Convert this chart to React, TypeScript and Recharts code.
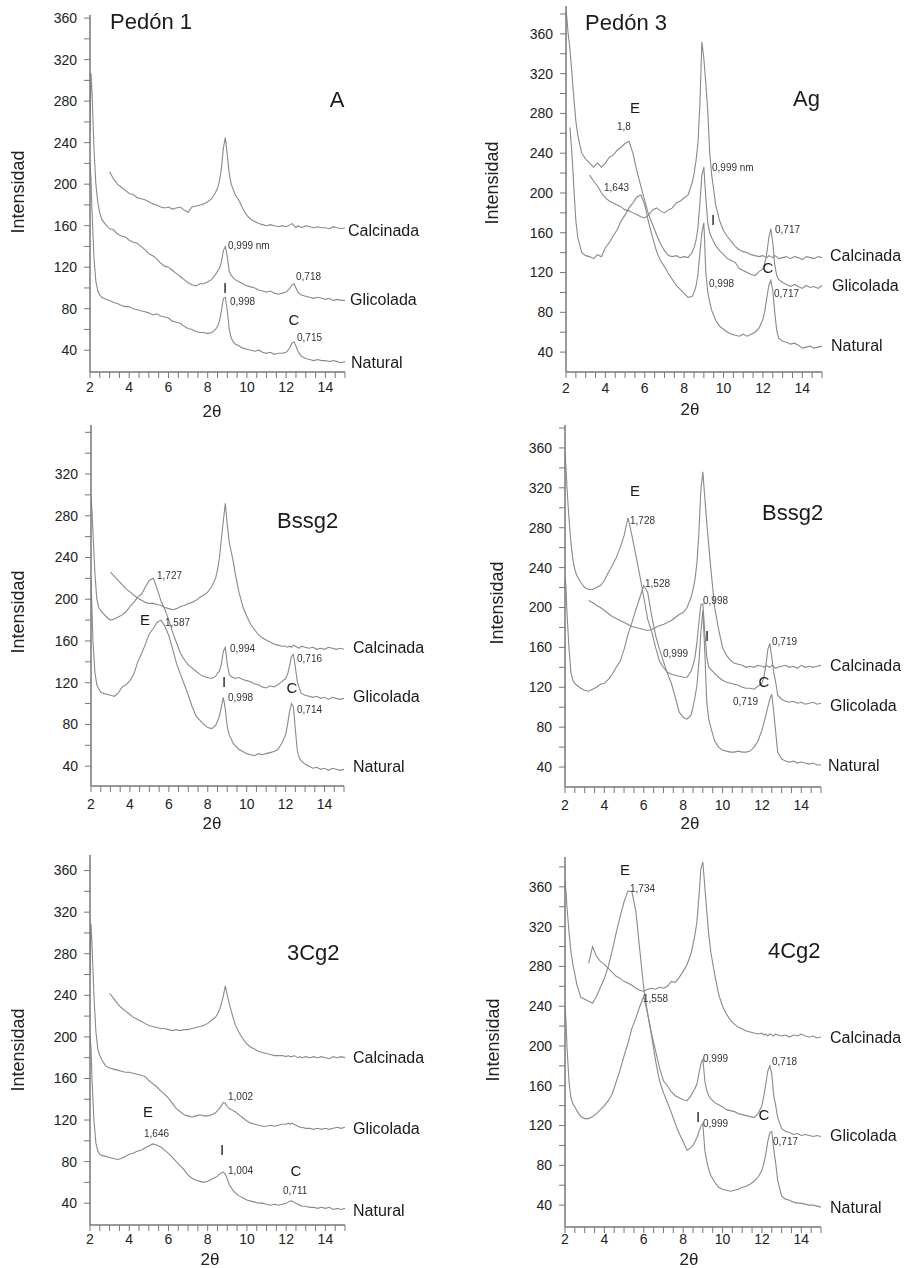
import React from "react";
import { LineChart, Line, XAxis, YAxis } from "recharts";

const N = null;

// 2θ sampling positions (denser around the illite and chlorite/kaolinite peaks)
const TWO_THETA = [
  2.0, 2.05, 2.1, 2.2, 2.3, 2.4, 2.5, 2.6, 2.8, 3.0,
  3.2, 3.4, 3.6, 3.8, 4.0, 4.2, 4.4, 4.6, 4.8, 5.0,
  5.2, 5.4, 5.6, 5.8, 6.0, 6.2, 6.4, 6.6, 6.8, 7.0,
  7.2, 7.4, 7.6, 7.8, 8.0, 8.2, 8.4, 8.5, 8.6, 8.7,
  8.8, 8.9, 9.0, 9.1, 9.2, 9.3, 9.4, 9.6, 9.8, 10.0,
  10.2, 10.4, 10.6, 10.8, 11.0, 11.2, 11.4, 11.6, 11.8, 12.0,
  12.1, 12.2, 12.3, 12.4, 12.5, 12.6, 12.7, 12.8, 13.0, 13.2,
  13.4, 13.6, 13.8, 14.0, 14.2, 14.4, 14.6, 14.8, 15.0,
];

// Pedón 1 - A
const natA = [
  220, 205, 175, 130, 106, 97, 93, 91, 89, 88,
  86, 85, 83, 82, 82, 80, 79, 78, 77, 76,
  74, 75, 73, 72, 71, 68, 67, 66, 63, 61,
  60, 58, 57, 57, 56, 57, 60, 63, 68, 78,
  90, 91, 78, 60, 52, 48, 46, 44, 42, 41,
  40, 39, 40, 38, 37, 38, 36, 37, 37, 38,
  40, 43, 47, 48, 44, 39, 36, 34, 32, 31,
  30, 31, 30, 30, 29, 30, 29, 28, 29,
];
const gliA = [
  250, 307, 290, 235, 200, 182, 172, 166, 161, 157,
  156, 152, 150, 149, 146, 144, 143, 140, 137, 133,
  131, 128, 124, 121, 120, 117, 114, 111, 108, 105,
  103, 102, 104, 104, 106, 108, 113, 116, 119, 125,
  136, 140, 130, 116, 112, 110, 108, 106, 104, 102,
  101, 100, 98, 97, 96, 97, 95, 94, 95, 96,
  98, 100, 103, 104, 100, 96, 94, 93, 92, 91,
  90, 91, 90, 89, 90, 88, 89, 88, 88,
];
const calA = [
  N, N, N, N, N, N, N, N, N, 212,
  205, 200, 197, 194, 191, 190, 187, 186, 185, 183,
  181, 180, 178, 177, 178, 176, 177, 178, 175, 173,
  178, 179, 180, 181, 183, 186, 192, 196, 203, 215,
  235, 245, 228, 210, 200, 195, 190, 184, 176, 170,
  166, 164, 162, 161, 160, 161, 160, 159, 160, 159,
  160, 161, 162, 160, 158, 160, 159, 158, 160, 159,
  158, 159, 158, 158, 157, 159, 158, 157, 158,
];

// Pedón 3 - Ag
const natAg = [
  N, N, N, 266, 240, 205, 172, 155, 140, 137,
  136, 134, 138, 136, 145, 150, 157, 163, 172, 178,
  185, 190, 196, 198, 188, 170, 155, 141, 132, 126,
  119, 113, 107, 103, 99, 95, 96, 100, 106, 118,
  140, 160, 170, 120, 100, 90, 82, 72, 66, 63,
  60, 58, 57, 56, 58, 56, 58, 60, 64, 73,
  82, 95, 107, 112, 102, 80, 62, 54, 51, 50,
  48, 49, 47, 44, 45, 46, 44, 45, 46,
];
const gliAg = [
  383, 375, 362, 345, 320, 295, 272, 258, 240, 234,
  230, 226, 230, 226, 230, 236, 238, 243, 246, 250,
  252, 240, 222, 207, 192, 178, 168, 158, 149, 142,
  137, 136, 137, 135, 136, 135, 140, 145, 152, 165,
  190, 218, 226, 195, 170, 160, 155, 147, 142, 138,
  134, 132, 130, 124, 122, 120, 118, 117, 121, 124,
  130, 140, 155, 164, 150, 128, 117, 113, 110, 108,
  106, 108, 106, 104, 107, 105, 106, 104, 107,
];
const calAg = [
  N, N, N, N, N, N, N, N, N, N,
  218, 212, 207, 200, 195, 192, 190, 188, 186, 183,
  182, 180, 178, 176, 175, 178, 183, 185, 182, 180,
  183, 185, 190, 192, 195, 198, 210, 219, 232, 250,
  290, 352, 335, 310, 282, 240, 218, 188, 172, 162,
  156, 151, 146, 143, 141, 140, 138, 137, 136, 137,
  136, 135, 137, 136, 135, 137, 136, 134, 135, 136,
  134, 136, 135, 133, 136, 135, 134, 136, 135,
];

// Pedón 1 - Bssg2
const natB = [
  218, 190, 160, 130, 118, 114, 111, 110, 109, 108,
  107, 110, 116, 118, 122, 128, 140, 148, 157, 167,
  172, 178, 180, 174, 165, 152, 138, 128, 118, 108,
  97, 88, 84, 80, 77, 76, 79, 83, 88, 97,
  106, 95, 78, 70, 66, 62, 60, 56, 54, 52,
  51, 50, 52, 51, 52, 53, 54, 56, 62, 70,
  80, 92, 100, 97, 75, 55, 48, 45, 42, 40,
  38, 39, 37, 38, 36, 38, 37, 36, 37,
];
const gliB = [
  298, 285, 265, 225, 200, 192, 189, 187, 183, 180,
  181, 183, 185, 188, 193, 197, 202, 205, 212, 218,
  220, 210, 198, 190, 180, 168, 158, 148, 142, 137,
  134, 131, 128, 126, 125, 124, 126, 129, 131, 138,
  150, 154, 138, 128, 126, 125, 124, 125, 123, 122,
  121, 119, 118, 116, 115, 117, 116, 118, 121, 124,
  128, 136, 145, 147, 135, 121, 115, 110, 108, 107,
  106, 107, 105, 106, 104, 106, 105, 104, 105,
];
const calB = [
  N, N, N, N, N, N, N, N, N, 226,
  222, 218, 214, 210, 207, 204, 201, 199, 197, 196,
  196, 195, 194, 192, 191, 190, 191, 193, 194, 196,
  197, 199, 202, 204, 207, 212, 220, 228, 240, 258,
  275, 292, 272, 255, 246, 237, 226, 207, 193, 184,
  176, 171, 166, 163, 161, 159, 157, 156, 155, 155,
  154, 155, 154, 156, 155, 154, 153, 155, 154, 153,
  154, 152, 153, 152, 154, 153, 152, 153, 152,
];

// Pedón 3 - Bssg2
const natB3 = [
  231, 220, 195, 160, 135, 127, 124, 122, 119, 117,
  116, 118, 120, 123, 124, 128, 133, 140, 146, 158,
  173, 185, 198, 210, 222, 215, 192, 172, 158, 146,
  134, 124, 110, 95, 90, 88, 92, 100, 110, 122,
  145, 175, 197, 155, 105, 88, 80, 66, 60, 57,
  56, 55, 55, 56, 55, 55, 56, 60, 66, 77,
  84, 92, 100, 108, 113, 95, 75, 55, 48, 46,
  45, 46, 44, 45, 44, 43, 44, 42, 42,
];
const gliB3 = [
  355, 340, 320, 290, 265, 248, 238, 232, 225, 220,
  218, 218, 220, 222, 227, 235, 242, 250, 260, 272,
  290, 272, 252, 232, 210, 188, 176, 160, 146, 140,
  135, 133, 132, 131, 130, 130, 136, 142, 150, 165,
  185, 203, 204, 175, 150, 140, 138, 134, 130, 127,
  125, 124, 123, 122, 120, 119, 119, 118, 121, 124,
  130, 142, 158, 164, 150, 135, 125, 112, 108, 106,
  105, 106, 104, 105, 103, 104, 105, 103, 104,
];
const calB3 = [
  N, N, N, N, N, N, N, N, N, N,
  207, 205, 202, 200, 197, 194, 191, 189, 187, 185,
  183, 181, 180, 179, 178, 177, 178, 180, 182, 183,
  185, 187, 190, 193, 195, 200, 210, 218, 228, 245,
  275, 318, 336, 310, 285, 262, 240, 200, 178, 160,
  152, 147, 144, 143, 142, 140, 141, 140, 142, 141,
  140, 142, 141, 140, 142, 141, 139, 140, 141, 142,
  140, 141, 139, 142, 140, 141, 140, 141, 142,
];

// Pedón 1 - 3Cg2
const natC = [
  200, 190, 160, 120, 98, 90, 87, 86, 85, 84,
  83, 82, 83, 85, 87, 88, 90, 91, 93, 95,
  97, 96, 94, 91, 88, 84, 80, 76, 72, 67,
  64, 62, 61, 60, 61, 63, 65, 66, 68, 69,
  70, 68, 63, 58, 55, 52, 50, 47, 45, 43,
  42, 41, 40, 40, 39, 38, 39, 38, 39, 40,
  41, 42, 42, 41, 40, 39, 38, 37, 37, 36,
  36, 35, 36, 35, 36, 34, 35, 34, 35,
];
const gliC = [
  260, 309, 290, 240, 205, 188, 182, 178, 172, 170,
  169, 168, 167, 166, 166, 165, 164, 163, 162, 158,
  155, 152, 148, 145, 141, 136, 131, 128, 125, 124,
  123, 124, 125, 124, 124, 125, 127, 129, 131, 134,
  137, 136, 133, 131, 130, 129, 128, 125, 122, 119,
  117, 116, 115, 114, 114, 115, 114, 115, 116, 116,
  117, 116, 117, 116, 115, 114, 113, 113, 112, 112,
  111, 112, 111, 112, 111, 112, 113, 112, 113,
];
const calC = [
  N, N, N, N, N, N, N, N, N, 242,
  237, 232, 228, 225, 222, 219, 217, 215, 213, 211,
  210, 209, 208, 208, 207, 206, 207, 206, 207, 207,
  208, 209, 210, 211, 213, 216, 219, 222, 226, 232,
  240, 249, 240, 232, 225, 218, 212, 204, 198, 193,
  190, 188, 186, 185, 184, 183, 182, 182, 182, 181,
  182, 181, 181, 182, 181, 180, 181, 180, 181, 180,
  181, 180, 181, 180, 179, 181, 180, 181, 180,
];

// Pedón 3 - 4Cg2
const natD = [
  239, 225, 200, 165, 148, 142, 139, 135, 129, 127,
  127, 129, 132, 136, 140, 145, 152, 164, 176, 190,
  203, 218, 228, 240, 250, 232, 210, 185, 165, 153,
  143, 133, 122, 112, 104, 95, 98, 100, 104, 108,
  114, 119, 122, 95, 84, 76, 70, 63, 58, 56,
  55, 54, 55, 56, 58, 59, 61, 64, 68, 75,
  82, 92, 104, 113, 114, 96, 82, 65, 49, 46,
  45, 43, 42, 42, 41, 40, 40, 39, 38,
];
const gliD = [
  367, 355, 340, 315, 295, 282, 272, 262, 249, 247,
  245, 243, 250, 259, 268, 280, 296, 314, 330, 345,
  356, 355, 335, 296, 258, 232, 212, 195, 178, 165,
  160, 154, 150, 148, 146, 145, 150, 154, 157, 162,
  172, 182, 187, 165, 155, 150, 147, 143, 141, 139,
  136, 135, 134, 132, 131, 130, 129, 128, 132, 140,
  150, 162, 175, 180, 172, 150, 140, 128, 117, 114,
  113, 111, 112, 110, 111, 110, 109, 110, 109,
];
const calD = [
  N, N, N, N, N, N, N, N, N, N,
  283, 300, 290, 285, 282, 278, 274, 270, 268, 265,
  263, 261, 258, 256, 255, 257, 258, 257, 259, 258,
  260, 265, 264, 269, 275, 282, 293, 302, 312, 325,
  350, 378, 385, 360, 335, 312, 295, 272, 252, 240,
  232, 226, 222, 219, 217, 215, 214, 213, 212, 213,
  211, 212, 210, 212, 211, 210, 212, 211, 210, 211,
  209, 211, 210, 212, 210, 209, 210, 208, 209,
];

const X_LABELS = [2, 4, 6, 8, 10, 12, 14];
const Y_LABELS = [40, 80, 120, 160, 200, 240, 280, 320, 360];
const Y_LABELS_NO360 = [40, 80, 120, 160, 200, 240, 280, 320];

const X_TICKS = Array.from({ length: 27 }, (_, i) => 2 + i * 0.5);

const FONT = "'Liberation Sans', Arial, sans-serif";
const AXIS = "#777";
const LINE = "#8a8a8a";

// layout of each panel on the page (plot box in page pixels) and its annotations
const PANELS = [
  {
    nat: natA, gli: gliA, cal: calA,
    left: 90, right: 345, top: 15, bottom: 372, domain: [19, 363], yTickMax: 360, yLabels: Y_LABELS, xDy: 20,
    yTitle: [18, 192], xTitle: [212, 417],
    texts: [
      ["Pedón 1", 110, 29, 22], ["A", 337, 107, 22, "middle"],
      ["0,999 nm", 228, 249, 10], ["0,718", 296, 280, 10], ["I", 225, 293, 15, "middle"],
      ["0,998", 230, 305, 10], ["C", 294, 325, 15, "middle"], ["0,715", 297, 341, 10],
      ["Calcinada", 348, 236, 16], ["Glicolada", 350, 305, 16], ["Natural", 351, 368, 16],
    ],
  },
  {
    nat: natAg, gli: gliAg, cal: calAg,
    left: 566, right: 822, top: 6, bottom: 372, domain: [20, 388], yTickMax: 380, yLabels: Y_LABELS, xDy: 21,
    yTitle: [492, 183], xTitle: [690, 415],
    texts: [
      ["Pedón 3", 585, 30, 22], ["Ag", 793, 106, 22], ["E", 635, 113, 15, "middle"],
      ["1,8", 617, 130, 10], ["0,999 nm", 712, 171, 10], ["1,643", 604, 191, 10],
      ["I", 713, 225, 15, "middle"], ["0,717", 775, 233, 10], ["C", 768, 273, 15, "middle"],
      ["0,998", 709, 287, 10], ["0,717", 774, 297, 10],
      ["Calcinada", 830, 261, 16], ["Glicolada", 832, 291, 16], ["Natural", 831, 351, 16],
    ],
  },
  {
    nat: natB, gli: gliB, cal: calB,
    left: 91, right: 344, top: 425, bottom: 786, domain: [21, 367], yTickMax: 360, yLabels: Y_LABELS_NO360, xDy: 23,
    yTitle: [18, 612], xTitle: [212, 829],
    texts: [
      ["Bssg2", 277, 528, 22], ["1,727", 157, 579, 10], ["E", 145, 625, 15, "middle"],
      ["1,587", 165, 626, 10], ["0,994", 230, 652, 10], ["0,716", 297, 662, 10],
      ["I", 224, 687, 15, "middle"], ["C", 292, 693, 15, "middle"], ["0,998", 228, 701, 10],
      ["0,714", 297, 713, 10],
      ["Calcinada", 353, 653, 16], ["Glicolada", 353, 702, 16], ["Natural", 353, 772, 16],
    ],
  },
  {
    nat: natB3, gli: gliB3, cal: calB3,
    left: 565, right: 821, top: 425, bottom: 787, domain: [20, 383], yTickMax: 380, yLabels: Y_LABELS, xDy: 23,
    yTitle: [497, 603], xTitle: [690, 829],
    texts: [
      ["E", 635, 496, 15, "middle"], ["1,728", 630, 524, 10], ["Bssg2", 762, 520, 22],
      ["1,528", 645, 587, 10], ["0,998", 703, 604, 10], ["I", 707, 641, 15, "middle"],
      ["0,999", 663, 657, 10], ["0,719", 772, 645, 10], ["C", 764, 687, 15, "middle"],
      ["0,719", 733, 705, 10],
      ["Calcinada", 830, 671, 16], ["Glicolada", 830, 711, 16], ["Natural", 828, 771, 16],
    ],
  },
  {
    nat: natC, gli: gliC, cal: calC,
    left: 90, right: 345, top: 855, bottom: 1225, domain: [19, 375], yTickMax: 360, yLabels: Y_LABELS, xDy: 19,
    yTitle: [18, 1050], xTitle: [210, 1265],
    texts: [
      ["3Cg2", 287, 960, 22], ["1,002", 228, 1100, 10], ["E", 148, 1117, 15, "middle"],
      ["1,646", 144, 1137, 10], ["I", 222, 1155, 15, "middle"], ["1,004", 228, 1174, 10],
      ["C", 296, 1176, 15, "middle"], ["0,711", 283, 1194, 10],
      ["Calcinada", 353, 1063, 16], ["Glicolada", 353, 1134, 16], ["Natural", 353, 1216, 16],
    ],
  },
  {
    nat: natD, gli: gliD, cal: calD,
    left: 565, right: 821, top: 857, bottom: 1227, domain: [18, 390], yTickMax: 380, yLabels: Y_LABELS, xDy: 17,
    yTitle: [493, 1040], xTitle: [689, 1265],
    texts: [
      ["E", 625, 875, 15, "middle"], ["1,734", 630, 892, 10], ["4Cg2", 768, 958, 22],
      ["1,558", 643, 1002, 10], ["0,999", 703, 1062, 10], ["0,718", 772, 1065, 10],
      ["I", 698, 1122, 15, "middle"], ["C", 764, 1120, 15, "middle"], ["0,999", 703, 1127, 10],
      ["0,717", 773, 1145, 10],
      ["Calcinada", 830, 1043, 16], ["Glicolada", 830, 1141, 16], ["Natural", 830, 1213, 16],
    ],
  },
];

function XTick(props: any) {
  const { x, y, payload, dy } = props;
  if (!X_LABELS.includes(payload.value)) return <g />;
  return (
    <text x={x} y={y + dy} textAnchor="middle" fontSize={14} fontFamily={FONT} fill="#222">
      {payload.value}
    </text>
  );
}

function YTick(props: any) {
  const { x, y, payload, labels } = props;
  if (!labels.includes(payload.value)) return <g />;
  return (
    <text x={x} y={y} dy="0.35em" textAnchor="end" fontSize={14} fontFamily={FONT} fill="#222">
      {payload.value}
    </text>
  );
}

function Panel({ p }: { p: any }) {
  const data = TWO_THETA.map((x, i) => ({ x, nat: p.nat[i], gli: p.gli[i], cal: p.cal[i] }));
  const yTicks: number[] = [];
  for (let v = 40; v <= p.yTickMax; v += 20) yTicks.push(v);

  return (
    <div style={{ position: "absolute", left: p.left - 60, top: p.top - 10 }}>
      <LineChart
        width={p.right - p.left + 70}
        height={p.bottom - p.top + 50}
        data={data}
        margin={{ top: 10, right: 10, bottom: 10, left: 20 }}
      >
        <XAxis
          dataKey="x"
          type="number"
          domain={[2, 15]}
          ticks={X_TICKS}
          interval={0}
          height={30}
          tickSize={6}
          tickMargin={0}
          allowDataOverflow
          axisLine={{ stroke: AXIS, strokeWidth: 1.5 }}
          tickLine={{ stroke: AXIS }}
          tick={(t: any) => <XTick {...t} dy={p.xDy - 6} />}
        />
        <YAxis
          type="number"
          domain={p.domain}
          ticks={yTicks}
          interval={0}
          width={40}
          tickSize={6}
          tickMargin={7}
          allowDataOverflow
          axisLine={{ stroke: AXIS, strokeWidth: 1.5 }}
          tickLine={{ stroke: AXIS }}
          tick={(t: any) => <YTick {...t} labels={p.yLabels} />}
        />
        <Line dataKey="nat" stroke={LINE} strokeWidth={1.1} dot={false} isAnimationActive={false} />
        <Line dataKey="gli" stroke={LINE} strokeWidth={1.1} dot={false} isAnimationActive={false} />
        <Line dataKey="cal" stroke={LINE} strokeWidth={1.1} dot={false} isAnimationActive={false} />
      </LineChart>
    </div>
  );
}

export default function App() {
  return (
    <div style={{ position: "absolute", left: 0, top: 0, width: 904, height: 1268, background: "#fff" }}>
      {PANELS.map((p, i) => (
        <Panel key={i} p={p} />
      ))}
      <svg
        width={904}
        height={1268}
        style={{ position: "absolute", left: 0, top: 0, pointerEvents: "none", willChange: "transform" }}
        fontFamily={FONT}
      >
        {PANELS.map((p, i) => (
          <g key={i}>
            {p.texts.map((t: any, j: number) => (
              <text
                key={j}
                x={t[1]}
                y={t[2]}
                fontSize={t[3]}
                textAnchor={t[4] || "start"}
                fill={t[3] <= 10 ? "#333" : "#1a1a1a"}
              >
                {t[0]}
              </text>
            ))}
            <text
              x={p.yTitle[0]}
              y={p.yTitle[1]}
              fontSize={18}
              textAnchor="middle"
              dominantBaseline="central"
              transform={`rotate(-90 ${p.yTitle[0]} ${p.yTitle[1]})`}
              fill="#222"
            >
              Intensidad
            </text>
            <text x={p.xTitle[0]} y={p.xTitle[1]} fontSize={17} textAnchor="middle" fill="#222">
              2θ
            </text>
          </g>
        ))}
      </svg>
    </div>
  );
}
